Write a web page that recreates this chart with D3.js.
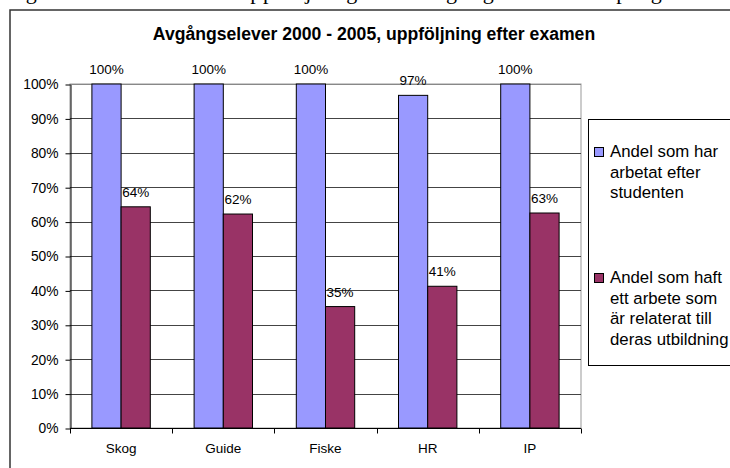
<!DOCTYPE html>
<html>
<head>
<meta charset="utf-8">
<script src="https://cdn.jsdelivr.net/npm/d3@7"></script>
<style>
  body { margin: 0; background: #fff; }
  svg { display: block; }
</style>
</head>
<body>
<div id="chart"></div>
<script>
const categories = ["Skog", "Guide", "Fiske", "HR", "IP"];
const seriesNames = [
    "Andel som har arbetat efter studenten",
    "Andel som haft ett arbete som är relaterat till deras utbildning"
];
const workedValues = [100, 100, 100, 96.7, 100];
const relatedValues = [64.3, 62.2, 35.3, 41.2, 62.5];
const yTicks = [0, 10, 20, 30, 40, 50, 60, 70, 80, 90, 100];
const legendLines = [
    ["Andel som har", "arbetat efter", "studenten"],
    ["Andel som haft", "ett arbete som", "är relaterat till", "deras utbildning"]
];

const width = 730, height = 468;
const plot = { left: 70, right: 581, top: 84, bottom: 428 };
const colors = ["#9999ff", "#993366"];

const svg = d3.select("#chart")
    .append("svg")
    .attr("width", width)
    .attr("height", height)
    .style("font-family", "Arial, 'Liberation Sans', sans-serif");

// caption of the page, mostly cut off above the picture
svg.append("text")
    .attr("x", 4)
    .attr("y", -1.5)
    .attr("font-family", "'Liberation Serif', 'Times New Roman', serif")
    .attr("font-size", 22)
    .attr("textLength", 740)
    .attr("lengthAdjust", "spacing")
    .text("Figur 3: Resultat från uppföljningen av avgångseleverna i programmen");

// chart frame (right and bottom are outside the picture)
svg.append("rect")
    .attr("x", 10)
    .attr("y", 10)
    .attr("width", 760)
    .attr("height", 500)
    .attr("fill", "#fff")
    .attr("stroke", "#333")
    .attr("stroke-width", 1.5);

svg.append("text")
    .attr("x", 374)
    .attr("y", 40)
    .attr("text-anchor", "middle")
    .attr("font-weight", "bold")
    .attr("font-size", 17.6)
    .text("Avgångselever 2000 - 2005, uppföljning efter examen");

const x0 = d3.scaleBand()
    .domain(categories)
    .range([plot.left, plot.right])
    .paddingInner(0.4286)
    .paddingOuter(0.2143);

const x1 = d3.scaleBand()
    .domain([0, 1])
    .range([0, x0.bandwidth()]);

const y = d3.scaleLinear()
    .domain([0, 100])
    .range([plot.bottom, plot.top]);

// plot area border
svg.append("rect")
    .attr("x", plot.left)
    .attr("y", plot.top)
    .attr("width", plot.right - plot.left)
    .attr("height", plot.bottom - plot.top)
    .attr("fill", "#fff")
    .attr("stroke", "#999")
    .attr("stroke-width", 1);

// gridlines
svg.append("g")
    .selectAll("line")
    .data(yTicks.filter(d => d > 0))
    .join("line")
    .attr("x1", plot.left)
    .attr("x2", plot.right)
    .attr("y1", d => Math.round(y(d)) + 0.5)
    .attr("y2", d => Math.round(y(d)) + 0.5)
    .attr("stroke", d => d === 100 ? "#888" : "#444")
    .attr("stroke-width", 1);

// y axis
const yAxis = svg.append("g")
    .attr("transform", `translate(${plot.left + 0.5},0.5)`)
    .call(d3.axisLeft(y).tickValues(yTicks).tickFormat(d => d + "%").tickSize(5).tickSizeOuter(0));
yAxis.select(".domain").attr("stroke", "#000");
yAxis.selectAll(".tick line").attr("stroke", "#000");
yAxis.selectAll("text")
    .attr("x", -12)
    .attr("font-size", 13.8)
    .attr("font-family", "Arial, 'Liberation Sans', sans-serif")
    .attr("fill", "#000");

// bars
const data = categories.map((c, i) => ({ cat: c, vals: [workedValues[i], relatedValues[i]] }));

const groups = svg.append("g")
    .selectAll("g")
    .data(data)
    .join("g")
    .attr("transform", d => `translate(${x0(d.cat)},0)`);

groups.selectAll("rect")
    .data(d => d.vals.map((v, s) => ({ v, s })))
    .join("rect")
    .attr("x", d => x1(d.s))
    .attr("y", d => y(d.v))
    .attr("width", x1.bandwidth())
    .attr("height", d => y(0) - y(d.v))
    .attr("fill", d => colors[d.s])
    .attr("stroke", "#000")
    .attr("stroke-width", 1);

groups.selectAll("text")
    .data(d => d.vals.map((v, s) => ({ v, s })))
    .join("text")
    .attr("x", d => x1(d.s) + x1.bandwidth() / 2)
    .attr("y", d => y(d.v) - 10)
    .attr("text-anchor", "middle")
    .attr("font-size", 13.5)
    .text(d => Math.round(d.v) + "%");

// x axis
const xAxis = svg.append("g")
    .attr("transform", `translate(0,${plot.bottom + 0.5})`);
xAxis.append("line")
    .attr("x1", plot.left)
    .attr("x2", plot.right)
    .attr("stroke", "#000");
const step = (plot.right - plot.left) / categories.length;
xAxis.selectAll("line.tick")
    .data(d3.range(categories.length + 1))
    .join("line")
    .attr("class", "tick")
    .attr("x1", i => Math.round(plot.left + i * step) + 0.5)
    .attr("x2", i => Math.round(plot.left + i * step) + 0.5)
    .attr("y1", 0)
    .attr("y2", 5)
    .attr("stroke", "#000");
xAxis.selectAll("text")
    .data(categories)
    .join("text")
    .attr("x", d => x0(d) + x0.bandwidth() / 2)
    .attr("y", 24)
    .attr("text-anchor", "middle")
    .attr("font-size", 13.5)
    .text(d => d);

// legend
svg.append("rect")
    .attr("x", 588.5)
    .attr("y", 119.5)
    .attr("width", 200)
    .attr("height", 246)
    .attr("fill", "#fff")
    .attr("stroke", "#000")
    .attr("stroke-width", 1);

const legendTop = [157, 283];
const legend = svg.append("g")
    .selectAll("g")
    .data(seriesNames)
    .join("g")
    .attr("transform", (d, i) => `translate(594,${legendTop[i]})`);

legend.append("rect")
    .attr("x", 0.5)
    .attr("y", -9.5)
    .attr("width", 9)
    .attr("height", 9)
    .attr("fill", (d, i) => colors[i])
    .attr("stroke", "#000");

legend.append("text")
    .attr("x", 16)
    .attr("font-size", 16.8)
    .selectAll("tspan")
    .data((d, i) => legendLines[i])
    .join("tspan")
    .attr("x", 16)
    .attr("y", (d, j) => j * 20.7)
    .text(d => d);
</script>
</body>
</html>
